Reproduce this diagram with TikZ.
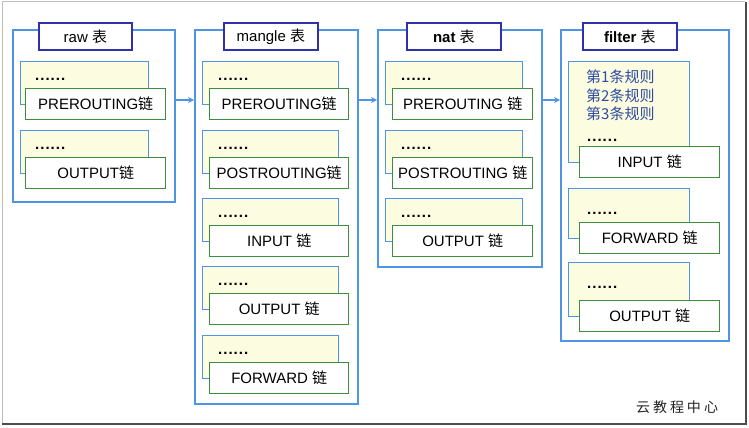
\documentclass[tikz,border=0pt]{standalone}
\usepackage{fontspec}
\setmainfont{Liberation Sans}
\newfontfamily\cjk{Noto Sans CJK SC}
\usetikzlibrary{arrows.meta}
\definecolor{blueline}{RGB}{78,150,228}
\definecolor{titleline}{RGB}{48,48,170}
\definecolor{greenline}{RGB}{62,140,62}
\definecolor{paleyellow}{RGB}{252,252,225}
\definecolor{ruletext}{RGB}{45,75,160}
\newcommand\zh[1]{{\cjk #1}}
\newcommand\sixdots{\textbf{.\hspace{1pt}.\hspace{1pt}.\hspace{1pt}.\hspace{1pt}.\hspace{1pt}.}}
\begin{document}
\begin{tikzpicture}[x=1pt,y=-1pt,
  every node/.style={font=\fontsize{15}{18}\selectfont, inner sep=0pt},
  outer/.style={draw=blueline, line width=2pt, anchor=north west},
  titlebox/.style={draw=titleline, line width=1.8pt, fill=white, anchor=north west, minimum width=94pt, minimum height=27pt},
  ybox/.style={draw=blueline, line width=1.4pt, fill=paleyellow, anchor=north west, minimum height=43pt},
  gbox/.style={draw=greenline, line width=1.4pt, fill=white, anchor=north west, minimum height=31pt},
  dots/.style={anchor=base west},
  conn/.style={draw=blueline, line width=1.4pt, -{Stealth[length=6pt,width=6pt]}}
]
\useasboundingbox (0,0) rectangle (749,428);
\fill[white] (0,0) rectangle (749,428);
% frame
\draw[black!25, line width=1pt] (2,424) -- (2,2) -- (745,2);
\draw[black!70, line width=2.5pt] (2,424) -- (746,424) -- (746,2);

% ---------- raw ----------
\node[outer, minimum width=162pt, minimum height=172pt] (raw) at (12,29) {};
\node[titlebox, minimum width=93pt] (rawt) at (38,22) {raw \zh{表}};
\node[ybox, minimum width=128pt] (rawy1) at (20,61) {};
\node[dots] (rawd1) at (35,80) {\sixdots};
\node[gbox, minimum width=140pt] (rawg1) at (25,88) {PREROUTING\zh{链}};
\node[ybox, minimum width=128pt] (rawy2) at (20,130) {};
\node[dots] (rawd2) at (35,149) {\sixdots};
\node[gbox, minimum width=140pt] (rawg2) at (25,157) {OUTPUT\zh{链}};

% ---------- mangle ----------
\node[outer, minimum width=163pt, minimum height=374pt] (mangle) at (194,29) {};
\node[titlebox] (mant) at (223,22) {mangle \zh{表}};
\node[ybox, minimum width=136pt] (many1) at (202,61) {};
\node[dots] (mand1) at (218,80) {\sixdots};
\node[gbox, minimum width=139pt] (mang1) at (209,88) {PREROUTING\zh{链}};
\node[ybox, minimum width=136pt] (many2) at (202,130) {};
\node[dots] (mand2) at (218,149) {\sixdots};
\node[gbox, minimum width=139pt] (mang2) at (209,157) {POSTROUTING\zh{链}};
\node[ybox, minimum width=136pt] (many3) at (202,198) {};
\node[dots] (mand3) at (218,217) {\sixdots};
\node[gbox, minimum width=139pt] (mang3) at (209,225) {INPUT \zh{链}};
\node[ybox, minimum width=136pt] (many4) at (202,266) {};
\node[dots] (mand4) at (218,285) {\sixdots};
\node[gbox, minimum width=139pt] (mang4) at (209,293) {OUTPUT \zh{链}};
\node[ybox, minimum width=136pt] (many5) at (202,335) {};
\node[dots] (mand5) at (218,354) {\sixdots};
\node[gbox, minimum width=139pt] (mang5) at (209,362) {FORWARD \zh{链}};

% ---------- nat ----------
\node[outer, minimum width=164pt, minimum height=237pt] (nat) at (377,29) {};
\node[titlebox] (natt) at (406,22) {\textbf{nat} \zh{表}};
\node[ybox, minimum width=137pt] (naty1) at (385,61) {};
\node[dots] (natd1) at (401,80) {\sixdots};
\node[gbox, minimum width=140pt] (natg1) at (392,88) {PREROUTING \zh{链}};
\node[ybox, minimum width=137pt] (naty2) at (385,130) {};
\node[dots] (natd2) at (401,149) {\sixdots};
\node[gbox, minimum width=140pt] (natg2) at (392,157) {POSTROUTING \zh{链}};
\node[ybox, minimum width=137pt] (naty3) at (385,198) {};
\node[dots] (natd3) at (401,217) {\sixdots};
\node[gbox, minimum width=140pt] (natg3) at (392,225) {OUTPUT \zh{链}};

% ---------- filter ----------
\node[outer, minimum width=168pt, minimum height=311pt] (filter) at (560,29) {};
\node[titlebox] (filt) at (582,22) {\textbf{filter} \zh{表}};
\node[ybox, minimum width=121pt, minimum height=101pt] (fily1) at (568,61) {};
\node[anchor=north west, align=left, text=ruletext, font=\cjk\fontsize{15}{18.5}\selectfont] (filr) at (586,70) {第1条规则\\第2条规则\\第3条规则};
\node[dots] (fild1) at (587,141) {\sixdots};
\node[gbox, minimum width=140pt] (filg1) at (579,146) {INPUT \zh{链}};
\node[ybox, minimum width=121pt, minimum height=50pt] (fily2) at (568,188) {};
\node[dots] (fild2) at (587,214) {\sixdots};
\node[gbox, minimum width=140pt] (filg2) at (579,222) {FORWARD \zh{链}};
\node[ybox, minimum width=121pt, minimum height=54pt] (fily3) at (568,262) {};
\node[dots] (fild3) at (587,288) {\sixdots};
\node[gbox, minimum width=140pt] (filg3) at (579,300) {OUTPUT \zh{链}};

% ---------- connectors ----------
\coordinate (ay) at (0,100);
\draw[conn] (raw.east |- ay) -- (mangle.west |- ay);
\draw[conn] (mangle.east |- ay) -- (nat.west |- ay);
\draw[conn] (nat.east |- ay) -- (filter.west |- ay);

% watermark text
\node[text=black!85, font=\cjk\fontsize{14}{16}\selectfont] (wm) at (677,407) {云\hspace{3pt}教\hspace{3pt}程\hspace{3pt}中\hspace{3pt}心};
\end{tikzpicture}
\end{document}
